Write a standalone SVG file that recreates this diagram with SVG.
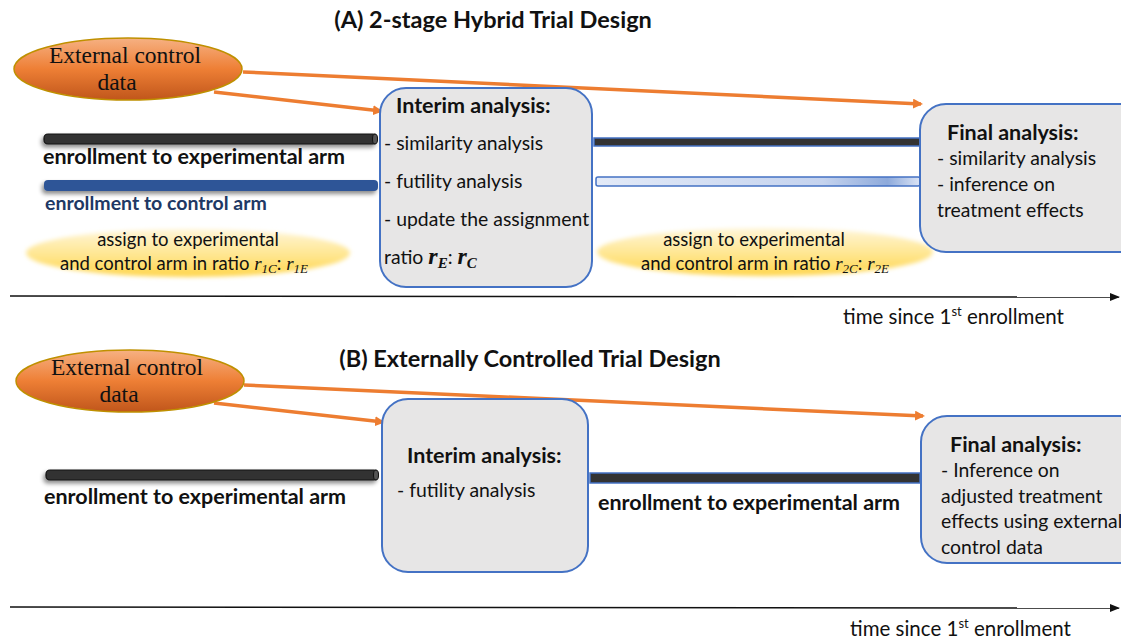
<svg xmlns="http://www.w3.org/2000/svg" width="1121" height="638" viewBox="0 0 1121 638">
<defs>
<style>
.t{font-family:Lato,"Open Sans","Liberation Sans",sans-serif;fill:#111}
.b{font-weight:bold}
.ser{font-family:"Liberation Serif","DejaVu Serif",serif;fill:#111}
.box{fill:#e7e6e6;stroke:#4472c4;stroke-width:2}
.oarr{stroke:#ed7d31;stroke-width:3.5;fill:none;marker-end:url(#oh)}
.axis{stroke:#111;stroke-width:1.5;marker-end:url(#ah)}
.m{font-family:"Liberation Serif","DejaVu Serif",serif;font-style:italic}
</style>
<linearGradient id="og" x1="0" y1="0" x2="0" y2="1">
<stop offset="0" stop-color="#f6b183"/>
<stop offset="0.5" stop-color="#ee7f35"/>
<stop offset="1" stop-color="#c0561b"/>
</linearGradient>
<linearGradient id="yg" x1="0" y1="0" x2="0" y2="1">
<stop offset="0" stop-color="#fff6d9"/>
<stop offset="0.6" stop-color="#ffe488"/>
<stop offset="1" stop-color="#ffd54a"/>
</linearGradient>
<linearGradient id="lb" x1="0" y1="0" x2="1" y2="0">
<stop offset="0" stop-color="#e3eaf7"/>
<stop offset="0.7" stop-color="#c5d3ee"/>
<stop offset="0.9" stop-color="#8eaadb"/>
<stop offset="1" stop-color="#dbe4f5"/>
</linearGradient>
<linearGradient id="axg" x1="0" y1="0" x2="1" y2="0">
<stop offset="0" stop-color="#888"/>
<stop offset="0.15" stop-color="#222"/>
<stop offset="1" stop-color="#111"/>
</linearGradient>
<filter id="blur" x="-20%" y="-50%" width="140%" height="200%"><feGaussianBlur stdDeviation="2"/></filter>
<filter id="sh" x="-5%" y="-50%" width="110%" height="250%"><feDropShadow dx="-2" dy="3" stdDeviation="2" flood-color="#000" flood-opacity="0.45"/></filter>
<marker id="oh" markerWidth="10" markerHeight="10" refX="8" refY="5" orient="auto" markerUnits="userSpaceOnUse" viewBox="0 0 10 10"><path d="M0,0 L10,5 L0,10 Z" fill="#ed7d31"/></marker>
<marker id="ah" markerWidth="10" markerHeight="10" refX="9" refY="5" orient="auto" markerUnits="userSpaceOnUse" viewBox="0 0 10 10"><path d="M0,1 L10,5 L0,9 Z" fill="#111"/></marker>
</defs>
<rect width="1121" height="638" fill="#fff"/>

<!-- Panel A -->
<text class="t b" x="493" y="28" font-size="23.5" text-anchor="middle">(A) 2-stage Hybrid Trial Design</text>

<g id="connectors">
<line class="oarr" x1="243" y1="72" x2="921" y2="104"/>
<line class="oarr" x1="214" y1="92" x2="381" y2="111"/>
<line class="oarr" x1="244" y1="385" x2="923" y2="416"/>
<line class="oarr" x1="214" y1="403" x2="383" y2="422"/>
<line class="axis" x1="10" y1="296" x2="1119" y2="297" stroke="url(#axg)"/>
<line class="axis" x1="10" y1="607" x2="1119" y2="608" stroke="url(#axg)"/>
</g>

<g id="extA">
<ellipse cx="128" cy="69" rx="114" ry="31" fill="url(#og)" stroke="#bf9000" stroke-width="1.5"/>
<text class="ser" x="125" y="63" font-size="23.5" text-anchor="middle">External control</text>
<text class="ser" x="117" y="90" font-size="23.5" text-anchor="middle">data</text>
</g>

<g id="barsA">
<rect x="44" y="134" width="333" height="10" rx="4" fill="#333" stroke="#111" stroke-width="1.2" filter="url(#sh)"/>
<ellipse cx="375" cy="139" rx="2.5" ry="5" fill="#555" stroke="#111" stroke-width="1"/>
<text class="t b" x="43" y="164" font-size="21.5">enrollment to experimental arm</text>
<rect x="44" y="180" width="334" height="11" rx="4" fill="#2f5597" filter="url(#sh)"/>
<text class="t b" x="45" y="210" font-size="19.5" style="fill:#203864">enrollment to control arm</text>
<rect x="594" y="138" width="326" height="8" fill="#333" stroke="#4472c4" stroke-width="1.5"/>
<rect x="596" y="177" width="324" height="9" rx="2" fill="url(#lb)" stroke="#4472c4" stroke-width="1.5"/>
</g>

<g id="assignA1">
<ellipse cx="188" cy="253" rx="162" ry="24" fill="url(#yg)" filter="url(#blur)"/>
<text class="t" x="188" y="246" font-size="18.5" text-anchor="middle">assign to experimental</text>
<text class="t" x="184" y="270" font-size="18.5" text-anchor="middle">and control arm in ratio <tspan class="m" font-size="19">r</tspan><tspan class="m" font-size="13" dy="3">1C</tspan><tspan dy="-3">: </tspan><tspan class="m" font-size="19">r</tspan><tspan class="m" font-size="13" dy="3">1E</tspan></text>
</g>

<g id="interimA">
<rect class="box" x="380" y="88" width="212" height="199" rx="26"/>
<text class="t b" x="396" y="113" font-size="21.5">Interim analysis:</text>
<text class="t" x="384" y="150" font-size="19.4">- similarity analysis</text>
<text class="t" x="384" y="188" font-size="19.4">- futility analysis</text>
<text class="t" x="384" y="226" font-size="19.4">- update the assignment</text>
<text class="t" x="384" y="264" font-size="19.4">ratio <tspan class="m" font-weight="bold" font-size="24">r</tspan><tspan class="m" font-weight="bold" font-size="15" dy="4">E</tspan><tspan dy="-4">: </tspan><tspan class="m" font-weight="bold" font-size="24">r</tspan><tspan class="m" font-weight="bold" font-size="15" dy="4">C</tspan></text>
</g>

<g id="assignA2">
<ellipse cx="765" cy="252" rx="168" ry="24" fill="url(#yg)" filter="url(#blur)"/>
<text class="t" x="754" y="246" font-size="18.5" text-anchor="middle">assign to experimental</text>
<text class="t" x="765" y="270" font-size="18.5" text-anchor="middle">and control arm in ratio <tspan class="m" font-size="19">r</tspan><tspan class="m" font-size="13" dy="3">2C</tspan><tspan dy="-3">: </tspan><tspan class="m" font-size="19">r</tspan><tspan class="m" font-size="13" dy="3">2E</tspan></text>
</g>

<g id="finalA">
<rect class="box" x="920" y="104" width="230" height="148" rx="26"/>
<text class="t b" x="947" y="140" font-size="21.5">Final analysis:</text>
<text class="t" x="937" y="165" font-size="19.4">- similarity analysis</text>
<text class="t" x="937" y="191" font-size="19.4">- inference on</text>
<text class="t" x="937" y="217" font-size="19.4">treatment effects</text>
</g>

<text class="t" x="843" y="324" font-size="20.5">time since 1<tspan font-size="13" dy="-8">st</tspan><tspan dy="8"> enrollment</tspan></text>

<!-- Panel B -->
<text class="t b" x="530" y="367" font-size="23.5" text-anchor="middle">(B) Externally Controlled Trial Design</text>

<g id="extB">
<ellipse cx="130" cy="381" rx="114" ry="31" fill="url(#og)" stroke="#bf9000" stroke-width="1.5"/>
<text class="ser" x="127" y="375" font-size="23.5" text-anchor="middle">External control</text>
<text class="ser" x="119" y="402" font-size="23.5" text-anchor="middle">data</text>
</g>

<g id="barsB">
<rect x="46" y="470" width="332" height="10" rx="4" fill="#333" stroke="#111" stroke-width="1.2" filter="url(#sh)"/>
<ellipse cx="376" cy="475" rx="2.5" ry="5" fill="#555" stroke="#111" stroke-width="1"/>
<text class="t b" x="44" y="504" font-size="21.5">enrollment to experimental arm</text>
<rect x="590" y="473" width="330" height="10" fill="#333" stroke="#4472c4" stroke-width="1.5"/>
<text class="t b" x="598" y="510" font-size="21.5">enrollment to experimental arm</text>
</g>

<g id="interimB">
<rect class="box" x="382" y="399" width="206" height="173" rx="26"/>
<text class="t b" x="407" y="463" font-size="21.5">Interim analysis:</text>
<text class="t" x="397" y="497" font-size="19.4">- futility analysis</text>
</g>

<g id="finalB">
<rect class="box" x="921" y="416" width="230" height="147" rx="26"/>
<text class="t b" x="950" y="452" font-size="21.5">Final analysis:</text>
<text class="t" x="941" y="477" font-size="19.4">- Inference on</text>
<text class="t" x="941" y="503" font-size="19.4">adjusted treatment</text>
<text class="t" x="941" y="528" font-size="19.4">effects using external</text>
<text class="t" x="941" y="554" font-size="19.4">control data</text>
</g>

<text class="t" x="850" y="636" font-size="20.5">time since 1<tspan font-size="13" dy="-8">st</tspan><tspan dy="8"> enrollment</tspan></text>
</svg>
